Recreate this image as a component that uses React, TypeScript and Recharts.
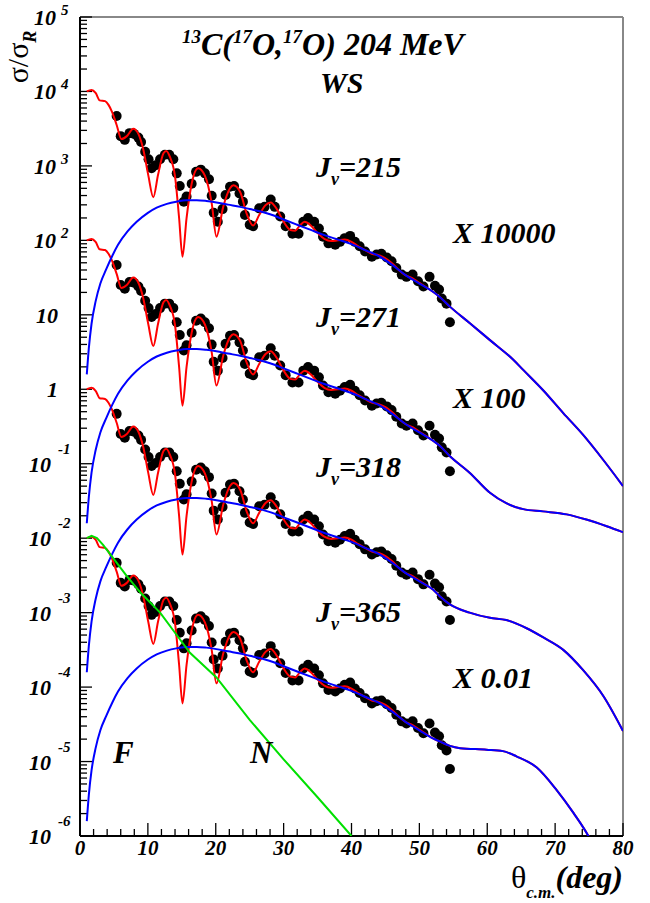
import { ComposedChart, Line, Scatter, XAxis, YAxis, ReferenceLine } from 'recharts'

// 13C(17O,17O) 204 MeV, WS potential. Everything is stored as log10 of sigma/sigma_R
// for the unscaled (x1) set; each displayed set is multiplied by its factor.

const setFactors = [1e4, 1e2, 1, 1e-2]
const setJv = ['215', '271', '318', '365']
const scaleLabels = ['X 10000', 'X 100', '', 'X 0.01']

// measured points (theta c.m., log10 sigma/sigma_R)
const dataTheta = [
  5.4, 6.0, 6.6, 7.3, 7.95, 8.6, 9.0, 9.6, 10.1, 10.55, 11.15, 11.8, 12.5, 13.15, 13.75,
  14.25, 14.7, 15.3, 15.7, 16.45, 17.1, 17.8, 18.4, 19.0, 19.4, 19.7, 20.3, 21.0, 21.45,
  22.1, 22.7, 23.5, 24.0, 24.3, 25.0, 25.5, 26.4, 27.2, 28.1, 28.7, 29.5, 30.3, 31.3,
  32.2, 32.9, 33.6, 34.5, 35.2, 35.8, 36.6, 37.6, 38.3, 39.0, 39.8, 40.5, 41.2, 42.0,
  43.0, 43.7, 44.4, 45.2, 45.9, 46.6, 47.4, 48.1, 49.0, 49.8, 50.6, 51.5, 52.3, 52.9,
  53.3, 54.0, 54.5,
]
const dataLog = [
  -0.33, -0.6, -0.65, -0.56, -0.57, -0.62, -0.68, -0.81, -0.91, -1.03, -0.99, -0.91, -0.85,
  -0.85, -0.91, -1.1, -1.27, -1.48, -1.41, -1.24, -1.08, -1.05, -1.1, -1.18, -1.4, -1.63,
  -1.75, -1.58, -1.39, -1.28, -1.27, -1.37, -1.48, -1.66, -1.79, -1.81, -1.57, -1.55, -1.45,
  -1.55, -1.68, -1.81, -1.91, -1.91, -1.75, -1.7, -1.75, -1.84, -1.95, -2.04, -2.06, -2.02,
  -1.97, -1.94, -2.02, -2.08, -2.15, -2.22, -2.19, -2.18, -2.23, -2.28, -2.37, -2.46, -2.49,
  -2.46, -2.55, -2.62, -2.49, -2.61, -2.66, -2.78, -2.85, -3.1,
]

// full calculation (red), common part up to 52 deg
const fullBase: [number, number][] = [
  [1.0, 0.0], [1.7, 0.02], [2.3, -0.02], [2.9, -0.12], [3.7, -0.13], [4.2, -0.18], [4.7, -0.27],
  [5.4, -0.45], [6.1, -0.64], [6.9, -0.6], [7.85, -0.5], [8.6, -0.57], [9.3, -0.77], [10.05, -1.12],
  [10.8, -1.42], [11.5, -1.12], [12.3, -0.83], [12.7, -0.8], [13.25, -0.88], [14.0, -1.14],
  [14.6, -1.7], [15.1, -2.22], [15.7, -1.7], [16.45, -1.24], [17.4, -1.03], [18.4, -1.13],
  [19.4, -1.5], [20.1, -1.95], [21.1, -1.55], [22.1, -1.3], [22.6, -1.26], [23.6, -1.35],
  [24.55, -1.64], [25.5, -1.8], [26.4, -1.66], [27.3, -1.53], [28.1, -1.49], [29.0, -1.58],
  [30.0, -1.75], [31.0, -1.86], [31.7, -1.87], [32.4, -1.8], [33.1, -1.75], [34.0, -1.8],
  [35.0, -1.9], [36.0, -1.98], [37.0, -2.01], [38.0, -2.0], [39.0, -1.99], [40.0, -2.02],
  [41.0, -2.08], [42.0, -2.13], [43.0, -2.18], [44.0, -2.2], [45.0, -2.24], [46.0, -2.31],
  [47.0, -2.4], [48.0, -2.47], [49.0, -2.51], [50.0, -2.57], [51.0, -2.63], [52.0, -2.69],
]

// far-side (blue), common part up to 52 deg
const farBase: [number, number][] = [
  [1.0, -3.8], [1.3, -3.45], [1.7, -3.12], [2.3, -2.82], [3.0, -2.58], [3.9, -2.38], [4.8, -2.2],
  [5.6, -2.06], [7.0, -1.88], [8.35, -1.75], [10.0, -1.63], [11.3, -1.56], [12.8, -1.51],
  [14.2, -1.48], [15.7, -1.46], [17.2, -1.46], [18.6, -1.47], [20.1, -1.49], [21.8, -1.52],
  [23.6, -1.55], [25.0, -1.58], [26.5, -1.61], [28.0, -1.65], [30.0, -1.72], [32.0, -1.79],
  [34.0, -1.86], [36.0, -1.93], [38.0, -1.99], [40.0, -2.05], [42.0, -2.13], [44.0, -2.21],
  [46.0, -2.33], [48.0, -2.47], [50.0, -2.58], [52.0, -2.69],
]

// large-angle part, one per Jv (red and blue coincide there)
const tailJ215: [number, number][] = [
  [53.0, -2.76], [54.5, -2.89], [57.4, -3.11], [60.4, -3.34], [63.8, -3.6], [65.3, -3.74],
  [68.2, -4.01], [71.2, -4.32], [74.1, -4.61], [77.1, -4.95], [80.0, -5.3],
]
const tailJ271: [number, number][] = [
  [53.0, -2.76], [54.5, -2.9], [57.4, -3.12], [60.4, -3.39], [62.8, -3.53], [65.3, -3.61],
  [68.2, -3.64], [71.7, -3.68], [74.6, -3.75], [77.6, -3.84], [80.0, -3.92],
]
const tailJ318: [number, number][] = [
  [53.0, -2.78], [54.5, -2.89], [57.4, -3.0], [60.4, -3.07], [62.8, -3.1], [65.8, -3.21],
  [68.2, -3.33], [71.2, -3.5], [74.1, -3.77], [77.1, -4.12], [80.0, -4.59],
]
const tailJ365: [number, number][] = [
  [53.0, -2.73], [54.5, -2.79], [56.0, -2.82], [59.9, -2.84], [62.3, -2.86], [64.3, -2.93],
  [67.3, -3.08], [70.2, -3.38], [72.7, -3.69], [74.9, -4.0], [77.0, -4.4],
]
const tails = [tailJ215, tailJ271, tailJ318, tailJ365]

// near-side (green), drawn only for the X 0.01 set
const nearSide: [number, number][] = [
  [1.0, 0.0], [1.7, 0.03], [2.5, 0.0], [3.4, -0.09], [5.0, -0.28], [6.9, -0.51], [9.0, -0.74],
  [11.8, -1.0], [14.0, -1.27], [16.2, -1.54], [20.1, -1.87], [25.0, -2.44], [30.0, -2.97],
  [35.0, -3.48], [40.0, -4.0],
]

const xTickLabels = [0, 10, 20, 30, 40, 50, 60, 70, 80]
const yTickExponents = [-6, -5, -4, -3, -2, -1, 0, 1, 2, 3, 4, 5]

const FONT = 'Liberation Serif, Times New Roman, Times, serif'
const W = 650
const H = 903

const toPoints = (pairs: [number, number][], factor: number) =>
  pairs.map(([x, l]) => ({ x, y: factor * Math.pow(10, l) }))

const xTicks: number[] = []
for (let t = 0; t <= 80; t += 2) xTicks.push(t)
const yTicks: number[] = []
yTickExponents.forEach((e) => {
  yTicks.push(Math.pow(10, e))
  if (e < 5) for (let m = 2; m <= 9; m++) yTicks.push(m * Math.pow(10, e))
})

function YTick(props: any) {
  const { x, y, payload } = props
  const e = yTickExponents.find((k) => Math.abs(payload.value - Math.pow(10, k)) < 1e-6 * Math.pow(10, k))
  const major = e !== undefined
  const txt = { fontFamily: FONT, fontStyle: 'italic', fontWeight: 'bold', fill: '#000' } as const
  return (
    <g>
      <line x1={x} x2={x + (major ? 12 : 7)} y1={y} y2={y} stroke="#000" strokeWidth={1.3} />
      {major && e === 0 && (
        <text x={58} y={y + 8} textAnchor="end" fontSize={22} {...txt}>1</text>
      )}
      {major && e === 1 && (
        <text x={58} y={y + 8} textAnchor="end" fontSize={22} {...txt}>10</text>
      )}
      {major && e! >= 2 && (
        <>
          <text x={56} y={y + 8} textAnchor="end" fontSize={22} {...txt}>10</text>
          <text x={61} y={y - 2} fontSize={15} {...txt}>{e}</text>
        </>
      )}
      {major && e! < 0 && (
        <>
          <text x={51} y={y + 8} textAnchor="end" fontSize={22} {...txt}>10</text>
          <text x={58} y={y - 10} fontSize={15} {...txt}>{e}</text>
        </>
      )}
    </g>
  )
}

function XTick(props: any) {
  const { x, y, payload } = props
  const major = xTickLabels.includes(payload.value)
  return (
    <g>
      <line x1={x} x2={x} y1={y} y2={y - (major ? 13 : 7)} stroke="#000" strokeWidth={1.3} />
      {major && (
        <text x={x} y={y + 19} textAnchor="middle" fontSize={21} fontFamily={FONT}
          fontStyle="italic" fontWeight="bold" fill="#000">{payload.value}</text>
      )}
    </g>
  )
}

const Dot = (props: any) => <circle cx={props.cx} cy={props.cy} r={5} fill="#000" />

export default function App() {
  const labelStyle = { fontFamily: FONT, fontStyle: 'italic', fontWeight: 'bold', fill: '#000' } as const
  const jvBaselines = [177, 327, 477, 622]
  const scaleBaselines = [243, 408, 0, 688]

  return (
    <div style={{ position: 'absolute', left: 0, top: 0, width: W, height: H, background: '#fff' }}>
      {/* layer 1: frame, axes and measured points */}
      <ComposedChart width={W} height={H} margin={{ top: 17, right: 27, left: 0, bottom: 0 }}>
        <XAxis
          type="number"
          dataKey="x"
          domain={[0, 80]}
          allowDataOverflow
          ticks={xTicks}
          interval={0}
          tickSize={0}
          tickMargin={0}
          tickLine={false}
          height={67}
          axisLine={{ stroke: '#000', strokeWidth: 2 }}
          tick={<XTick />}
        />
        <YAxis
          type="number"
          dataKey="y"
          scale="log"
          domain={[1e-6, 1e5]}
          allowDataOverflow
          ticks={yTicks}
          interval={0}
          tickSize={0}
          tickMargin={0}
          tickLine={false}
          width={80}
          axisLine={{ stroke: '#000', strokeWidth: 2 }}
          tick={<YTick />}
        />
        <ReferenceLine y={1e5} stroke="#888" strokeWidth={2} />
        <ReferenceLine x={80} stroke="#888" strokeWidth={2} />
        {setFactors.map((f, i) => (
          <Scatter key={'d' + i} data={dataTheta.map((t, k) => ({ x: t, y: f * Math.pow(10, dataLog[k]) }))}
            shape={Dot} isAnimationActive={false} />
        ))}
      </ComposedChart>

      {/* layer 2: calculated curves, drawn over the points */}
      <div style={{ position: 'absolute', left: 0, top: 0 }}>
        <ComposedChart width={W} height={H} margin={{ top: 17, right: 27, left: 80, bottom: 67 }}>
          <XAxis type="number" dataKey="x" domain={[0, 80]} allowDataOverflow hide />
          <YAxis type="number" dataKey="y" scale="log" domain={[1e-6, 1e5]} allowDataOverflow hide />
          {setFactors.map((f, i) => (
            <Line key={'r' + i} data={toPoints([...fullBase, ...tails[i]], f)} dataKey="y" type="monotone"
              stroke="#ff0000" strokeWidth={2} dot={false} isAnimationActive={false} />
          ))}
          {setFactors.map((f, i) => (
            <Line key={'b' + i} data={toPoints([...farBase, ...tails[i]], f)} dataKey="y" type="monotone"
              stroke="#0000ff" strokeWidth={2} dot={false} isAnimationActive={false} />
          ))}
          <Line data={toPoints(nearSide, setFactors[3])} dataKey="y" type="linear"
            stroke="#00e000" strokeWidth={2} dot={false} isAnimationActive={false} />
        </ComposedChart>
      </div>

      <svg width={W} height={H} style={{ position: 'absolute', left: 0, top: 0, pointerEvents: 'none' }}>
        <text x={182} y={55} fontSize={32} {...labelStyle}>
          <tspan fontSize={19} dy={-12}>13</tspan>
          <tspan dy={12}>C(</tspan>
          <tspan fontSize={19} dy={-12}>17</tspan>
          <tspan dy={12}>O,</tspan>
          <tspan fontSize={19} dy={-12}>17</tspan>
          <tspan dy={12}>O) 204 MeV</tspan>
        </text>
        <text x={320} y={93} fontSize={30} {...labelStyle}>WS</text>

        {setJv.map((j, i) => (
          <text key={j} x={316} y={jvBaselines[i]} fontSize={30} {...labelStyle}>
            J<tspan fontSize={18} dy={8}>v</tspan>
            <tspan dy={-8}>={j}</tspan>
          </text>
        ))}
        {scaleLabels.map((s, i) =>
          s ? (
            <text key={s} x={453} y={scaleBaselines[i]} fontSize={30} {...labelStyle}>{s}</text>
          ) : null
        )}

        <text x={113} y={763} fontSize={31} {...labelStyle}>F</text>
        <text x={250} y={763} fontSize={31} {...labelStyle}>N</text>

        <text x={623} y={888} textAnchor="end" fontSize={32} {...labelStyle}>
          <tspan fontStyle="normal" fontWeight="normal">θ</tspan>
          <tspan fontSize={17} dy={10}>c.m.</tspan>
          <tspan dy={-10}>(deg)</tspan>
        </text>

        <text transform="rotate(-90 28 57)" x={28} y={57} textAnchor="middle" fontSize={30}
          fontFamily={FONT} fill="#000">
          σ/σ<tspan fontSize={18} dy={8} fontStyle="italic" fontWeight="bold">R</tspan>
        </text>
      </svg>
    </div>
  )
}
